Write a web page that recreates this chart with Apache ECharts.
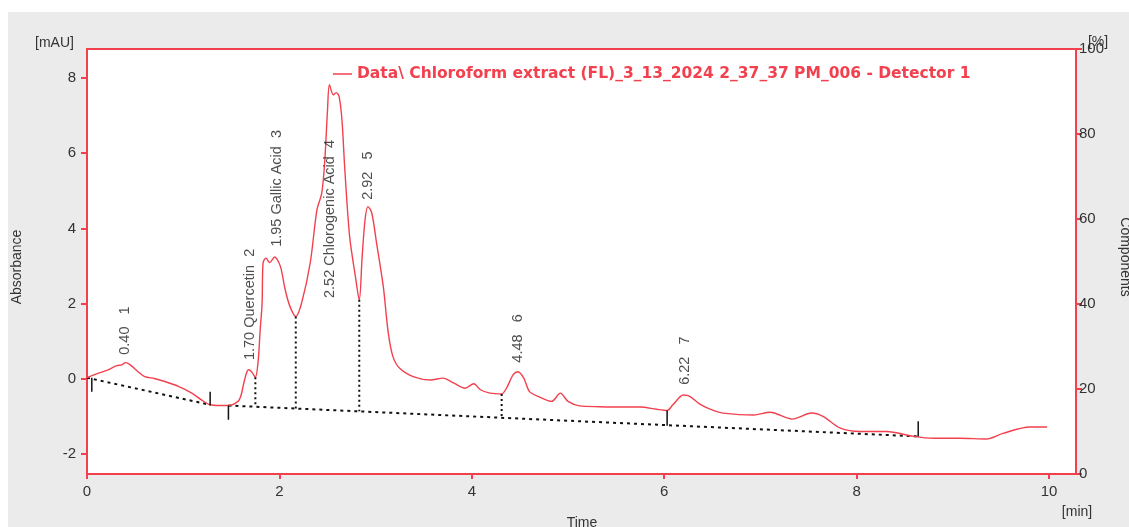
<!DOCTYPE html>
<html>
<head>
<meta charset="utf-8">
<script src="https://cdn.jsdelivr.net/npm/echarts@6/dist/echarts.min.js"></script>
<style>
  html, body { margin: 0; padding: 0; background: #fff; }
  #main { position: absolute; left: 8px; top: 12px; width: 1121px; height: 515px; background: #ebebeb; }
</style>
</head>
<body>
<div id="main"></div>
<script>
// chromatogram trace, time [min] / absorbance [mAU]
var times = [0.00, 0.12, 0.22, 0.31, 0.36, 0.40, 0.45, 0.53, 0.60, 0.70, 0.81, 0.95, 1.09, 1.19, 1.28, 1.38, 1.47,
  1.57, 1.60, 1.63, 1.66, 1.68, 1.71, 1.75, 1.78, 1.80, 1.82, 1.83, 1.86, 1.90, 1.95, 2.01, 2.06, 2.11, 2.17,
  2.23, 2.32, 2.39, 2.44, 2.47, 2.50, 2.52, 2.56, 2.59, 2.62, 2.65, 2.68, 2.73, 2.79, 2.83, 2.86, 2.89, 2.92,
  2.96, 3.01, 3.08, 3.13, 3.18, 3.25, 3.39, 3.57, 3.70, 3.81, 3.93, 4.02, 4.09, 4.19, 4.31, 4.36, 4.43, 4.48,
  4.54, 4.60, 4.71, 4.83, 4.92, 5.00, 5.12, 5.33, 5.54, 5.75, 5.92, 6.03, 6.09, 6.20, 6.27, 6.37, 6.51, 6.61,
  6.93, 7.10, 7.33, 7.53, 7.65, 7.83, 8.04, 8.31, 8.59, 8.80, 9.07, 9.35, 9.52, 9.80, 9.98];
var absorb = [0.03, 0.15, 0.24, 0.35, 0.37, 0.43, 0.37, 0.19, 0.06, 0.01, -0.07, -0.20, -0.38, -0.56, -0.69, -0.71, -0.71,
  -0.60, -0.45, -0.11, 0.17, 0.24, 0.19, 0.04, 0.50, 1.30, 2.00, 3.08, 3.21, 3.09, 3.24, 2.99, 2.37, 1.92, 1.66,
  2.01, 3.08, 4.49, 4.94, 5.74, 7.15, 7.82, 7.55, 7.61, 7.51, 6.89, 5.56, 3.78, 2.72, 2.10, 3.25, 4.23, 4.58,
  4.41, 3.61, 2.45, 1.25, 0.59, 0.28, 0.06, -0.03, 0.02, -0.11, -0.25, -0.13, -0.29, -0.38, -0.40, -0.25, 0.11, 0.19,
  0.02, -0.34, -0.49, -0.60, -0.38, -0.60, -0.72, -0.74, -0.75, -0.75, -0.81, -0.84, -0.69, -0.43, -0.47, -0.67, -0.84, -0.91,
  -0.96, -0.89, -1.07, -0.91, -1.00, -1.31, -1.40, -1.40, -1.53, -1.58, -1.58, -1.60, -1.45, -1.28, -1.28];

// integration baseline segments [t1, v1, t2, v2]
var baseSegs = [[0.00, 0.03, 1.28, -0.69], [1.47, -0.71, 8.64, -1.53]];
// peak start/end ticks (solid) [t, vTop, vBottom]
var tickMarks = [[0.05, 0.03, -0.34], [1.28, -0.34, -0.71], [1.47, -0.71, -1.09], [6.03, -0.84, -1.25], [8.64, -1.13, -1.53]];
// drop lines between peaks (dotted)
var dropLines = [[1.75, 0.04, -0.74], [2.17, 1.66, -0.79], [2.83, 2.10, -0.86], [4.31, -0.40, -1.02]];

// peak labels
var peakNames = ['0.40   1', '1.70 Quercetin  2', '1.95 Gallic Acid  3', '2.52 Chlorogenic Acid  4', '2.92   5', '4.48   6', '6.22   7'];
var peakLabelT = [0.395, 1.69, 1.975, 2.53, 2.92, 4.48, 6.22];
var peakLabelV = [0.64, 0.50, 3.51, 2.15, 4.76, 0.43, -0.16];

var yTicks = [-2, 0, 2, 4, 6, 8];
var xTicks = [0, 2, 4, 6, 8, 10];

var seriesName = 'Data\\ Chloroform extract (FL)_3_13_2024 2_37_37 PM_006 - Detector 1';
var red = '#f2404e';
var txt = '#333';

var chart = echarts.init(document.getElementById('main'));

var trace = [];
for (var i = 0; i < times.length; i++) {
    trace.push([times[i], absorb[i]]);
}

var series = [{
    name: seriesName,
    type: 'line',
    data: trace,
    symbol: 'none',
    smooth: 0.3,
    lineStyle: { color: red, width: 1.4 },
    itemStyle: { color: red },
    z: 3
}];

baseSegs.forEach(function (s) {
    series.push({
        type: 'line', symbol: 'none', silent: true,
        data: [[s[0], s[1]], [s[2], s[3]]],
        lineStyle: { color: '#111', width: 2, type: [3, 4] },
        z: 2
    });
});
tickMarks.forEach(function (m) {
    series.push({
        type: 'line', symbol: 'none', silent: true,
        data: [[m[0], m[1]], [m[0], m[2]]],
        lineStyle: { color: '#111', width: 1.5 },
        z: 4
    });
});
dropLines.forEach(function (m) {
    series.push({
        type: 'line', symbol: 'none', silent: true,
        data: [[m[0], m[1]], [m[0], m[2]]],
        lineStyle: { color: '#111', width: 2, type: [2, 3] },
        z: 4
    });
});

var labelData = [];
for (var k = 0; k < peakNames.length; k++) {
    labelData.push({ name: peakNames[k], value: [peakLabelT[k], peakLabelV[k]] });
}
series.push({
    type: 'scatter',
    symbolSize: 0,
    silent: true,
    data: labelData,
    label: {
        show: true,
        position: 'inside',
        rotate: 90,
        align: 'left',
        verticalAlign: 'middle',
        formatter: '{b}',
        color: '#222',
        fontSize: 14.5,
        fontFamily: 'Liberation Sans'
    },
    z: 5
});

var option = {
    animation: false,
    backgroundColor: '#ebebeb',
    textStyle: { fontFamily: 'Liberation Sans' },
    legend: {
        left: 325,
        top: 54,
        padding: 0,
        data: [{ name: seriesName, icon: 'rect' }],
        itemWidth: 19,
        itemHeight: 1.5,
        itemGap: 6,
        textStyle: { color: red, fontWeight: 'bold', fontSize: 15.5, fontFamily: 'DejaVu Sans' }
    },
    grid: {
        left: 79, top: 37, right: 53, bottom: 53,
        show: true,
        backgroundColor: '#fff',
        borderColor: red,
        borderWidth: 2
    },
    xAxis: {
        type: 'value',
        min: 0, max: 10.28,
        axisLine: { onZero: false, lineStyle: { color: red, width: 2 } },
        axisTick: { customValues: xTicks, length: 5, lineStyle: { color: red, width: 2 } },
        axisLabel: { customValues: xTicks, color: txt, fontSize: 15, margin: 10 },
        splitLine: { show: false }
    },
    yAxis: [{
        type: 'value',
        min: -2.53, max: 8.77,
        axisLine: { show: true, onZero: false, lineStyle: { color: red, width: 2 } },
        axisTick: { show: true, customValues: yTicks, length: 6, lineStyle: { color: red, width: 2 } },
        axisLabel: { customValues: yTicks, color: txt, fontSize: 15, margin: 11 },
        splitLine: { show: false }
    }, {
        type: 'value',
        position: 'right',
        min: 0, max: 100, interval: 20,
        axisLine: { show: true, onZero: false, lineStyle: { color: red, width: 2 } },
        axisTick: { show: true, length: 6, lineStyle: { color: red, width: 2 } },
        axisLabel: { color: txt, fontSize: 15, margin: 3 },
        splitLine: { show: false }
    }],
    graphic: [
        { type: 'text', left: 27, top: 24, style: { text: '[mAU]', fill: txt, font: '14px "Liberation Sans"' } },
        { type: 'text', x: 9, y: 255, rotation: Math.PI / 2, style: { text: 'Absorbance', fill: txt, font: '14px "Liberation Sans"', align: 'center', verticalAlign: 'middle' } },
        { type: 'text', x: 574, y: 511, style: { text: 'Time', fill: txt, font: '14px "Liberation Sans"', align: 'center', verticalAlign: 'middle' } },
        { type: 'text', x: 1069, y: 500, style: { text: '[min]', fill: txt, font: '14px "Liberation Sans"', align: 'center', verticalAlign: 'middle' } },
        { type: 'text', x: 1090, y: 30, style: { text: '[%]', fill: txt, font: '14px "Liberation Sans"', align: 'center', verticalAlign: 'middle' } },
        { type: 'text', x: 1117, y: 245, rotation: -Math.PI / 2, style: { text: 'Components', fill: txt, font: '14px "Liberation Sans"', align: 'center', verticalAlign: 'middle' } }
    ],
    series: series
};

chart.setOption(option);
</script>
</body>
</html>
